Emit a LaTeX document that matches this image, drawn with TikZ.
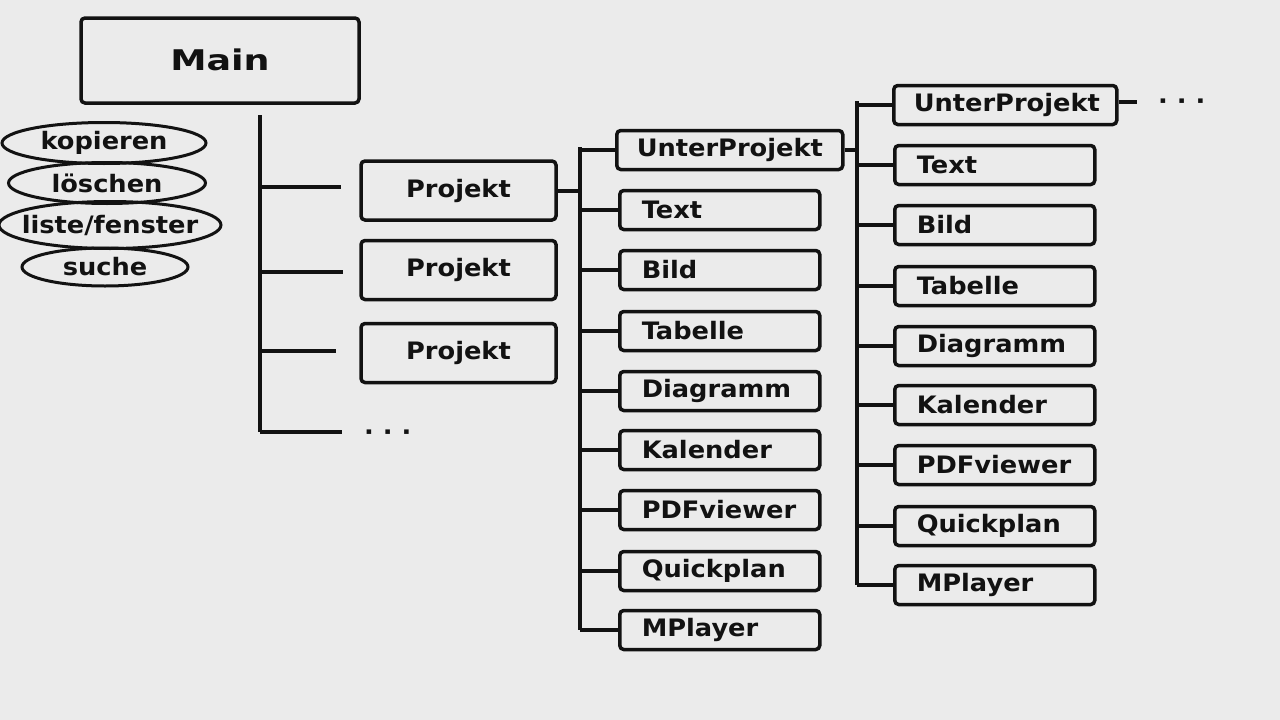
\documentclass[tikz,border=0pt]{standalone}
\usepackage{fontspec}
\setmainfont[FakeStretch=1.07]{DejaVu Sans Bold}
\newfontfamily\titlefont[FakeStretch=1.28]{DejaVu Sans Bold}
\usetikzlibrary{shapes.geometric}
\definecolor{bg}{RGB}{235,235,235}
\definecolor{ink}{RGB}{18,18,18}
\begin{document}
\begin{tikzpicture}[x=1pt,y=-1pt,
  lbl/.style={font=\fontsize{24}{28}\selectfont, text=ink},
  box/.style={lbl, draw=ink, line width=3.5pt, rounded corners=4pt},
  item/.style={box, minimum height=39pt, minimum width=200pt, text width=156pt, inner xsep=22pt, inner ysep=0pt, align=left, anchor=west},
  wideitem/.style={item, minimum width=226pt, text width=186pt, inner xsep=20pt},
  proj/.style={box, minimum width=195pt, minimum height=59pt},
  ell/.style={lbl, ellipse, draw=ink, line width=3pt, inner sep=0pt},
  conn/.style={line width=4pt, draw=ink},
  dots/.style={lbl, anchor=mid west, inner sep=0pt}
]
\useasboundingbox (0,0) rectangle (1280,720);
\fill[bg] (0,0) rectangle (1280,720);

% Main
\node[box, minimum width=278pt, minimum height=85pt, font=\titlefont\fontsize{28.5}{32}\selectfont] (main) at (220,60.5) {\raisebox{2.5pt}{Main}};

% ellipses
\node[ell, minimum width=204pt, minimum height=41pt] (kop) at (104,143) {\makebox[0pt]{kopieren}};
\node[ell, minimum width=197pt, minimum height=41pt] (loe) at (107,183) {\makebox[0pt]{löschen}};
\node[ell, minimum width=222pt, minimum height=47pt] (lis) at (110,225) {\makebox[0pt]{\raisebox{2pt}{liste/fenster}}};
\node[ell, minimum width=166pt, minimum height=38pt] (suc) at (105,267) {\makebox[0pt]{suche}};

% Projekte
\node[proj] (p1) at (458.5,190.5) {Projekt};
\node[proj] (p2) at (458.5,270) {Projekt};
\node[proj] (p3) at (458.5,353) {Projekt};
\node[dots] (pd) at (364,438) {· · ·};

% main trunk
\coordinate (m0) at (260,115);
\coordinate (m1) at (260,432);
\draw[conn] (m0) -- (m1);
\draw[conn] (m0 |- 0,187) -- ([xshift=-18pt]p1.west |- 0,187);
\draw[conn] (m0 |- 0,272) -- ([xshift=-16pt]p2.west |- 0,272);
\draw[conn] (m0 |- 0,351) -- ([xshift=-23pt]p3.west |- 0,351);
\draw[conn] (m1) -- ([xshift=-22pt]pd.mid west |- m1);

% column 2
\node[wideitem] (c2a) at (615,150) {UnterProjekt};
\foreach \n/\t/\y in {b/Text/210, c/Bild/270, d/Tabelle/331, e/Diagramm/391, f/Kalender/450, g/PDFviewer/510, h/Quickplan/571, i/MPlayer/630}
  \node[item] (c2\n) at (618,\y) {\t};
\coordinate (t2a) at (580,147);
\coordinate (t2b) at (580,630);
\draw[conn] (p1.east) -- (t2a |- p1.east);
\draw[conn] (t2a) -- (t2b);
\foreach \n in {a,b,c,d,e,f,g,h,i}
  \draw[conn] (t2a |- c2\n.west) -- (c2\n.west);

% column 3
\node[wideitem, minimum width=223pt, text width=183pt] (c3a) at (892,105) {UnterProjekt};
\foreach \n/\t/\y in {b/Text/165, c/Bild/225, d/Tabelle/286, e/Diagramm/346, f/Kalender/405, g/PDFviewer/465, h/Quickplan/526, i/MPlayer/585}
  \node[item] (c3\n) at (893,\y) {\t};
\coordinate (t3a) at (857,101);
\coordinate (t3b) at (857,585);
\draw[conn] (c2a.east) -- (t3a |- c2a.east);
\draw[conn] (t3a) -- (t3b);
\foreach \n in {a,b,c,d,e,f,g,h,i}
  \draw[conn] (t3a |- c3\n.west) -- (c3\n.west);
\node[dots] (ud) at (1158,107) {· · ·};
\draw[conn] (c3a.east |- 0,102) -- ([xshift=-21pt]ud.mid west |- 0,102);
\end{tikzpicture}
\end{document}
